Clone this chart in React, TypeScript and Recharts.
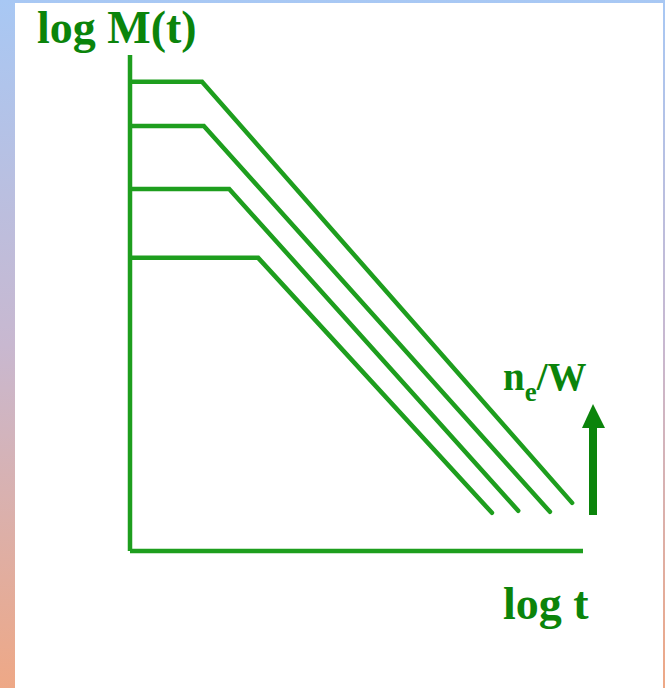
import React from 'react';
import { LineChart, Line, XAxis, YAxis } from 'recharts';

// log t (x) and log M(t) (y), in arbitrary units
const curveA = [
  { x: 0, y: 9.46 },
  { x: 1.59, y: 9.46 },
  { x: 9.76, y: 0.97 },
];
const curveB = [
  { x: 0, y: 8.57 },
  { x: 1.63, y: 8.57 },
  { x: 9.27, y: 0.79 },
];
const curveC = [
  { x: 0, y: 7.3 },
  { x: 2.19, y: 7.3 },
  { x: 8.57, y: 0.81 },
];
const curveD = [
  { x: 0, y: 5.91 },
  { x: 2.83, y: 5.91 },
  { x: 7.99, y: 0.77 },
];

const curves = [curveA, curveB, curveC, curveD];

const GREEN_LINE = '#1e9e1e';
const GREEN_TEXT = '#0b840b';
const FONT = "'Liberation Serif', 'Times New Roman', serif";

const W = 665;
const H = 688;

const App: React.FC = () => {
  return (
    <div
      style={{
        position: 'absolute',
        left: 0,
        top: 0,
        width: W,
        height: H,
        background: 'linear-gradient(to bottom, #a8c8f4 0%, #c8b8d0 50%, #eea886 100%)',
      }}
    >
      <div
        style={{
          position: 'absolute',
          left: 15,
          top: 3,
          right: 2,
          bottom: 0,
          background: '#ffffff',
        }}
      />
      <div style={{ position: 'absolute', left: 0, top: 0 }}>
        <LineChart
          width={W}
          height={H}
          margin={{ top: 55, right: 82, bottom: 136, left: 129 }}
        >
          <XAxis
            type="number"
            dataKey="x"
            domain={[0, 10]}
            tick={false}
            tickLine={false}
            height={1}
            axisLine={{ stroke: GREEN_LINE, strokeWidth: 4.5 }}
            allowDataOverflow
          />
          <YAxis
            type="number"
            dataKey="y"
            domain={[0, 10]}
            tick={false}
            tickLine={false}
            width={1}
            axisLine={{ stroke: GREEN_LINE, strokeWidth: 4.5 }}
            allowDataOverflow
          />
          {curves.map((c, i) => (
            <Line
              key={i}
              data={c}
              dataKey="y"
              type="linear"
              stroke={GREEN_LINE}
              strokeWidth={4.5}
              dot={false}
              isAnimationActive={false}
              strokeLinecap="round"
            />
          ))}
        </LineChart>
      </div>
      <svg
        width={W}
        height={H}
        style={{ position: 'absolute', left: 0, top: 0, pointerEvents: 'none' }}
      >
        <text x={37} y={43} fill={GREEN_TEXT} fontFamily={FONT} fontWeight="bold" fontSize={46}>
          log M(t)
        </text>
        <text x={503} y={619} fill={GREEN_TEXT} fontFamily={FONT} fontWeight="bold" fontSize={46}>
          log t
        </text>
        <text x={503} y={390} fill={GREEN_TEXT} fontFamily={FONT} fontWeight="bold" fontSize={39}>
          n
          <tspan fontSize={27} dy={11}>e</tspan>
          <tspan dy={-11}>/W</tspan>
        </text>
        <rect x={589} y={425} width={8} height={90} fill={GREEN_TEXT} />
        <polygon points="593,404 582,428 605,428" fill={GREEN_TEXT} />
      </svg>
    </div>
  );
};

export default App;
